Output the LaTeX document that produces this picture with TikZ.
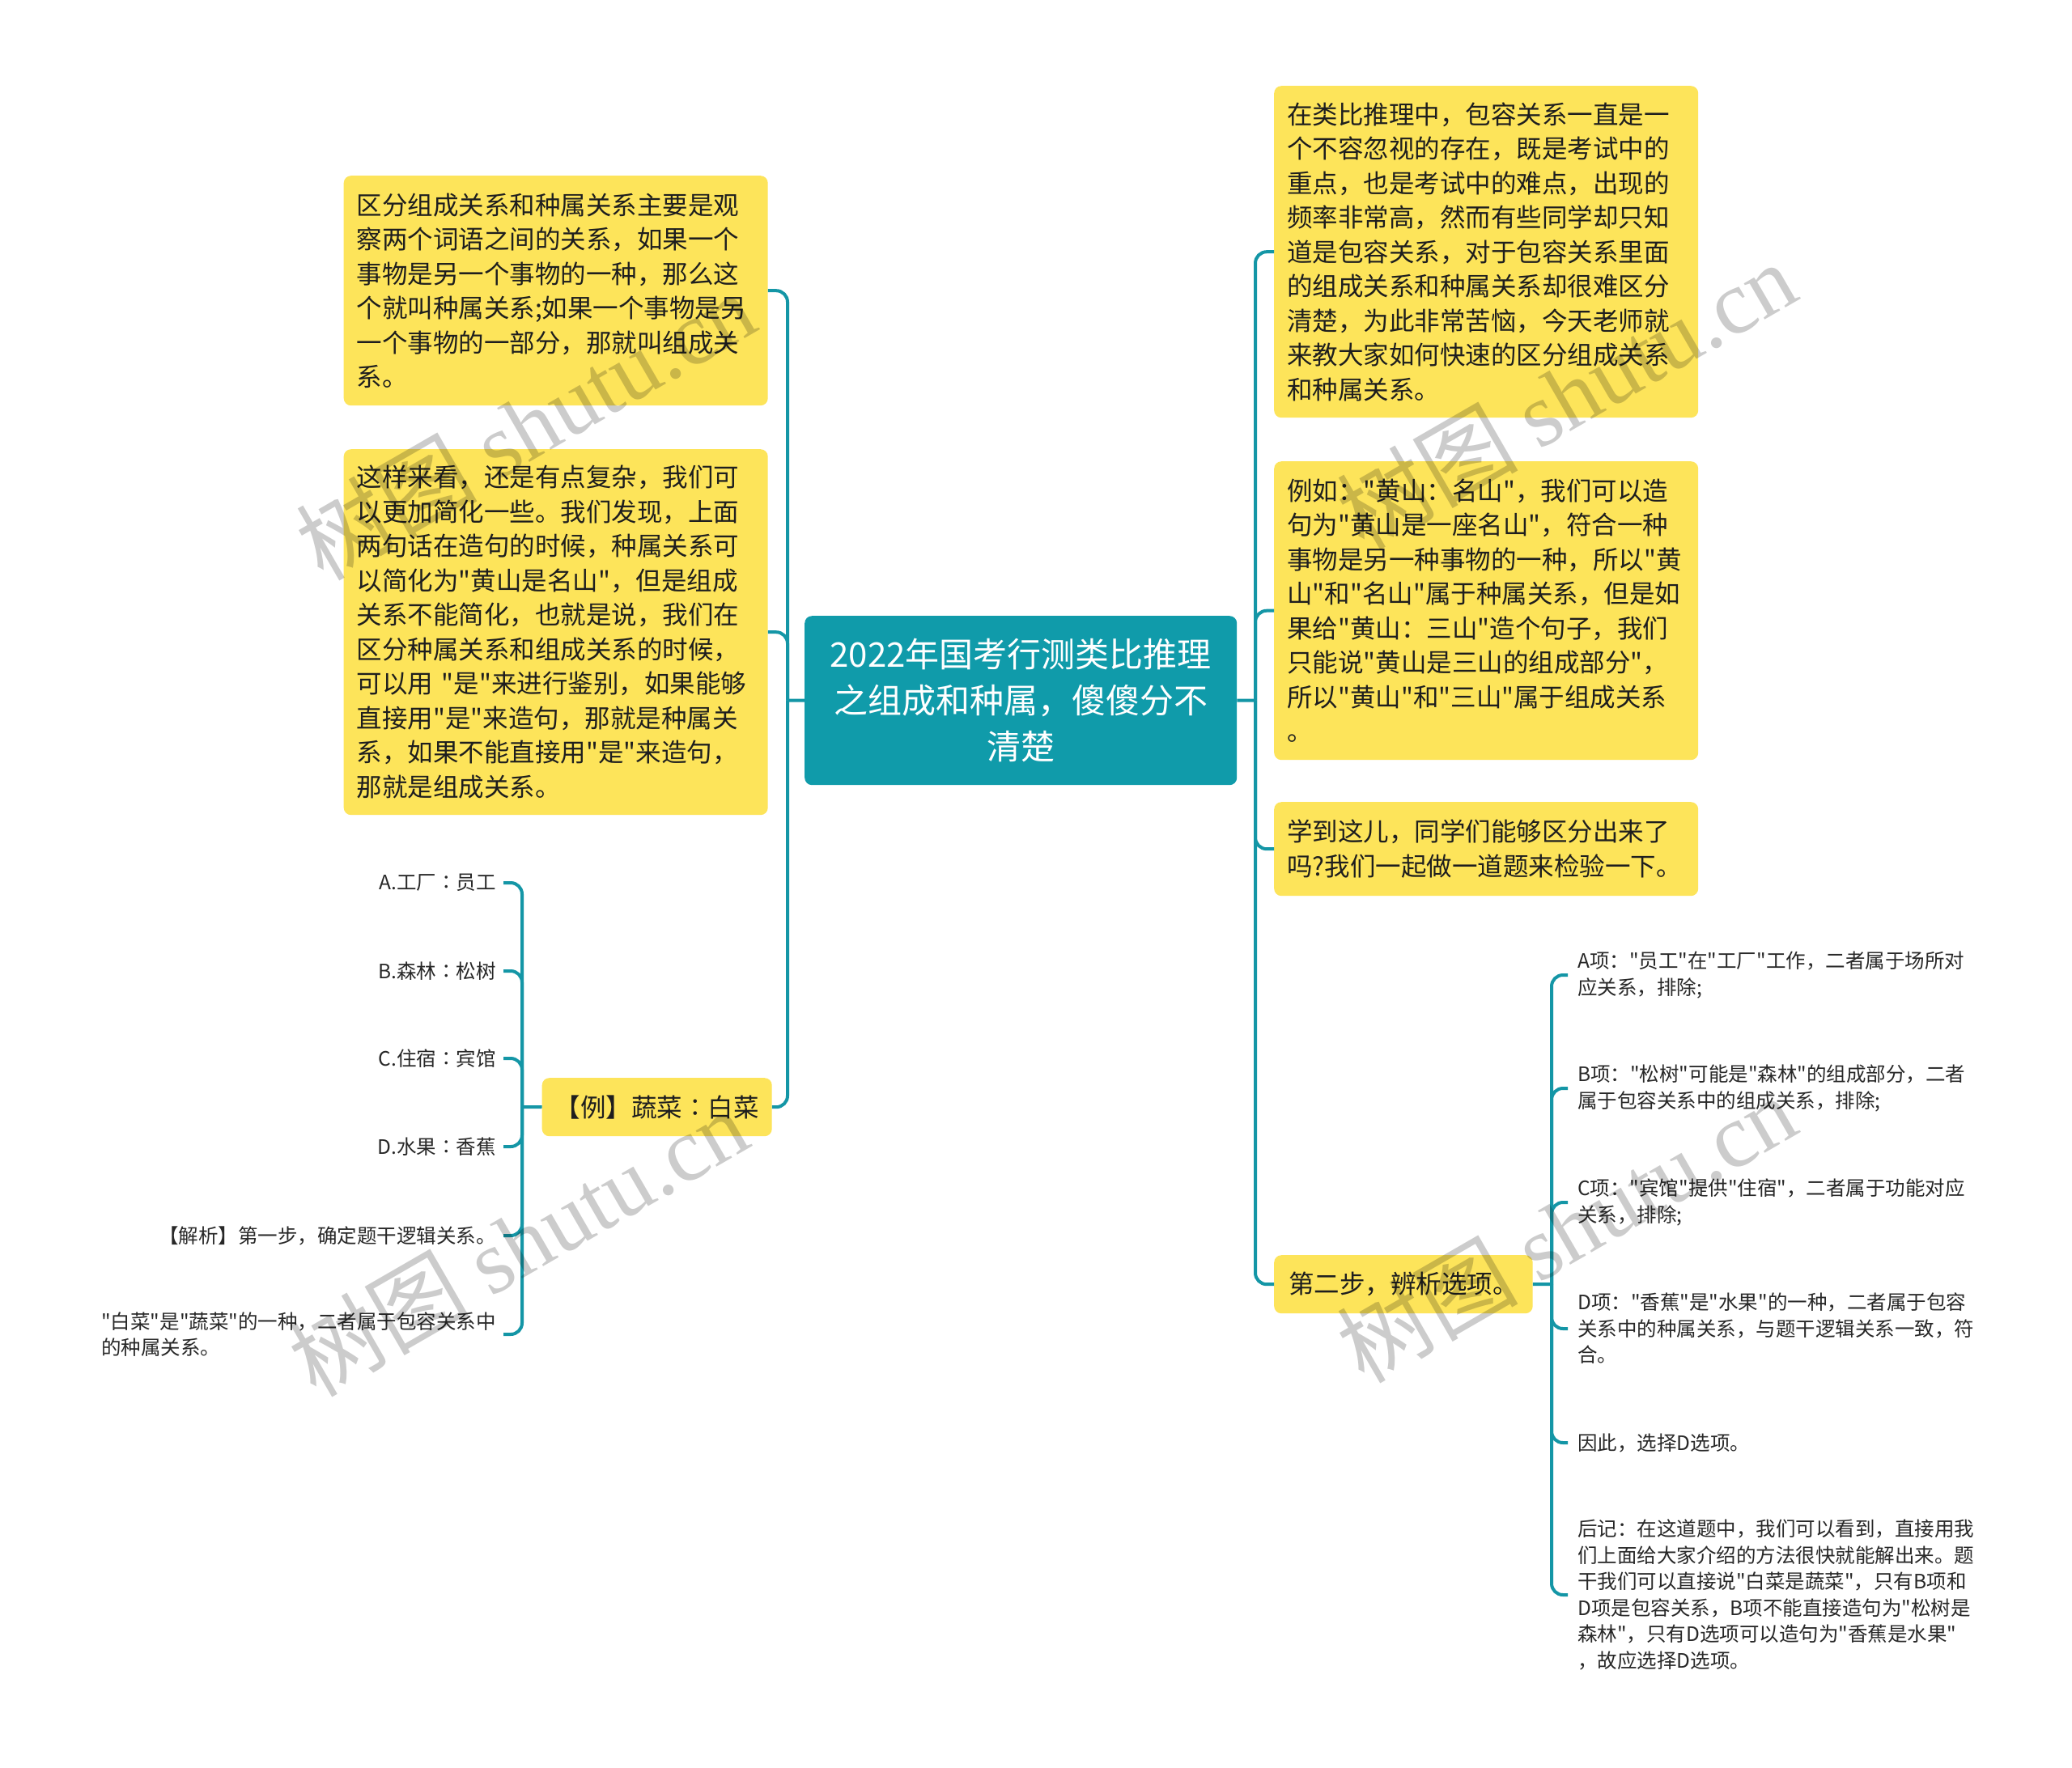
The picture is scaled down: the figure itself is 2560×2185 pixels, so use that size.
\documentclass[tikz,border=0pt]{standalone}
\usepackage{fontspec}
\newfontfamily\cjkfont{Noto Sans CJK SC}
\newfontfamily\wmfont{Liberation Serif}
\definecolor{boxyellow}{RGB}{253,228,90}
\definecolor{mainteal}{RGB}{16,155,170}
\definecolor{linteal}{RGB}{20,150,166}
\definecolor{txtdark}{RGB}{30,30,30}
\definecolor{txtleaf}{RGB}{40,40,40}
\begin{document}
\begin{tikzpicture}[x=1pt,y=-1pt,
  conn/.style={draw=linteal, line width=4pt, rounded corners=14pt},
  ybox/.style={fill=boxyellow, rounded corners=9pt, text=txtdark, inner xsep=16pt, inner ysep=0pt, font=\cjkfont\fontsize{31.5pt}{42.5pt}\selectfont},
  wide/.style={ybox, text width=492pt, align=left, anchor=north west},
  titlebox/.style={fill=mainteal, rounded corners=9pt, text=white, align=center, text width=500pt, inner xsep=17pt, inner ysep=0pt, font=\cjkfont\fontsize{42pt}{57pt}\selectfont, anchor=north west},
  leafL/.style={anchor=east, align=right, inner xsep=9pt, inner ysep=2pt, text=txtleaf, font=\cjkfont\fontsize{24.5pt}{32.5pt}\selectfont},
  leafR/.style={anchor=west, align=left, inner xsep=12pt, inner ysep=2pt, text=txtleaf, font=\cjkfont\fontsize{24.5pt}{32.5pt}\selectfont},
  wm/.style={text=black, opacity=0.2, rotate=30, font=\cjkfont\fontsize{112pt}{112pt}\selectfont}
]
\fill[white] (0,0) rectangle (2560,2185);
\useasboundingbox (0,0) rectangle (2560,2185);

% central topic
\node[titlebox, minimum height=209pt] (C) at (994,761) {2022年国考行测类比推理\\之组成和种属，傻傻分不\\清楚};

% left branch
\node[wide, minimum height=284pt] (L1) at (424.5,217) {区分组成关系和种属关系主要是观\\察两个词语之间的关系，如果一个\\事物是另一个事物的一种，那么这\\个就叫种属关系;如果一个事物是另\\一个事物的一部分，那就叫组成关\\系。};
\node[wide, minimum height=452pt] (L2) at (424.5,555) {这样来看，还是有点复杂，我们可\\以更加简化一些。我们发现，上面\\两句话在造句的时候，种属关系可\\以简化为"黄山是名山"，但是组成\\关系不能简化，也就是说，我们在\\区分种属关系和组成关系的时候，\\可以用 "是"来进行鉴别，如果能够\\直接用"是"来造句，那就是种属关\\系，如果不能直接用"是"来造句，\\那就是组成关系。};
\node[ybox, minimum width=279pt, minimum height=72pt, anchor=north west] (E) at (669.5,1332) {【例】蔬菜∶白菜};

% right branch
\node[wide, minimum height=410pt] (R1) at (1574,106) {在类比推理中，包容关系一直是一\\个不容忽视的存在，既是考试中的\\重点，也是考试中的难点，出现的\\频率非常高，然而有些同学却只知\\道是包容关系，对于包容关系里面\\的组成关系和种属关系却很难区分\\清楚，为此非常苦恼，今天老师就\\来教大家如何快速的区分组成关系\\和种属关系。};
\node[wide, minimum height=369pt] (R2) at (1574,570) {例如："黄山：名山"，我们可以造\\句为"黄山是一座名山"，符合一种\\事物是另一种事物的一种，所以"黄\\山"和"名山"属于种属关系，但是如\\果给"黄山：三山"造个句子，我们\\只能说"黄山是三山的组成部分"，\\所以"黄山"和"三山"属于组成关系\\。};
\node[wide, minimum height=116pt] (R3) at (1574,991) {学到这儿，同学们能够区分出来了\\吗?我们一起做一道题来检验一下。};
\node[ybox, minimum width=317pt, minimum height=72pt, anchor=north west, inner xsep=18pt] (R4) at (1574,1551) {第二步，辨析选项。};

% junctions
\coordinate (lj) at (973,865.5);
\coordinate (rj) at (1551,865.5);
\coordinate (ej) at (645,1368);
\coordinate (sj) at (1917,1587);

% left leaves
\node[leafL] (la) at (622,1091) {A.工厂∶员工};
\node[leafL] (lb) at (622,1200) {B.森林∶松树};
\node[leafL] (lc) at (622,1308) {C.住宿∶宾馆};
\node[leafL] (ld) at (622,1417) {D.水果∶香蕉};
\node[leafL] (le) at (622,1527) {【解析】第一步，确定题干逻辑关系。};
\node[leafL, align=left] (lf) at (622,1649) {"白菜"是"蔬菜"的一种，二者属于包容关系中\\的种属关系。};

% right leaves
\node[leafR] (ra) at (1937,1205) {A项："员工"在"工厂"工作，二者属于场所对\\应关系，排除;};
\node[leafR] (rb) at (1937,1345) {B项："松树"可能是"森林"的组成部分，二者\\属于包容关系中的组成关系，排除;};
\node[leafR] (rc) at (1937,1486) {C项："宾馆"提供"住宿"，二者属于功能对应\\关系，排除;};
\node[leafR] (rd) at (1937,1642) {D项："香蕉"是"水果"的一种，二者属于包容\\关系中的种属关系，与题干逻辑关系一致，符\\合。};
\node[leafR] (re) at (1937,1783) {因此，选择D选项。};
\node[leafR] (rf) at (1937,1971) {后记：在这道题中，我们可以看到，直接用我\\们上面给大家介绍的方法很快就能解出来。题\\干我们可以直接说"白菜是蔬菜"，只有B项和\\D项是包容关系，B项不能直接造句为"松树是\\森林"，只有D选项可以造句为"香蕉是水果"\\，故应选择D选项。};

% connectors
\draw[conn] (C.west) -- (lj);
\draw[conn] (lj) |- (L1.east);
\draw[conn] (lj) |- (L2.east);
\draw[conn] (lj) |- (E.east);
\draw[conn] (C.east) -- (rj);
\draw[conn] (rj) |- (R1.west);
\draw[conn] (rj) |- (R2.west);
\draw[conn] (rj) |- (R3.west);
\draw[conn] (rj) |- (R4.west);
\draw[conn] (E.west) -- (ej);
\foreach \n in {la,lb,lc,ld,le,lf} \draw[conn] (ej) |- (\n.east);
\draw[conn] (R4.east) -- (sj);
\foreach \n in {ra,rb,rc,rd,re,rf} \draw[conn] (sj) |- (\n.west);

% watermarks
\node[wm] (w1) at (649,526) {树图 {\wmfont shutu.cn}};
\node[wm] (w2) at (640,1535) {树图 {\wmfont shutu.cn}};
\node[wm] (w3) at (1935,488) {树图 {\wmfont shutu.cn}};
\node[wm] (w4) at (1935,1518) {树图 {\wmfont shutu.cn}};
\end{tikzpicture}
\end{document}
